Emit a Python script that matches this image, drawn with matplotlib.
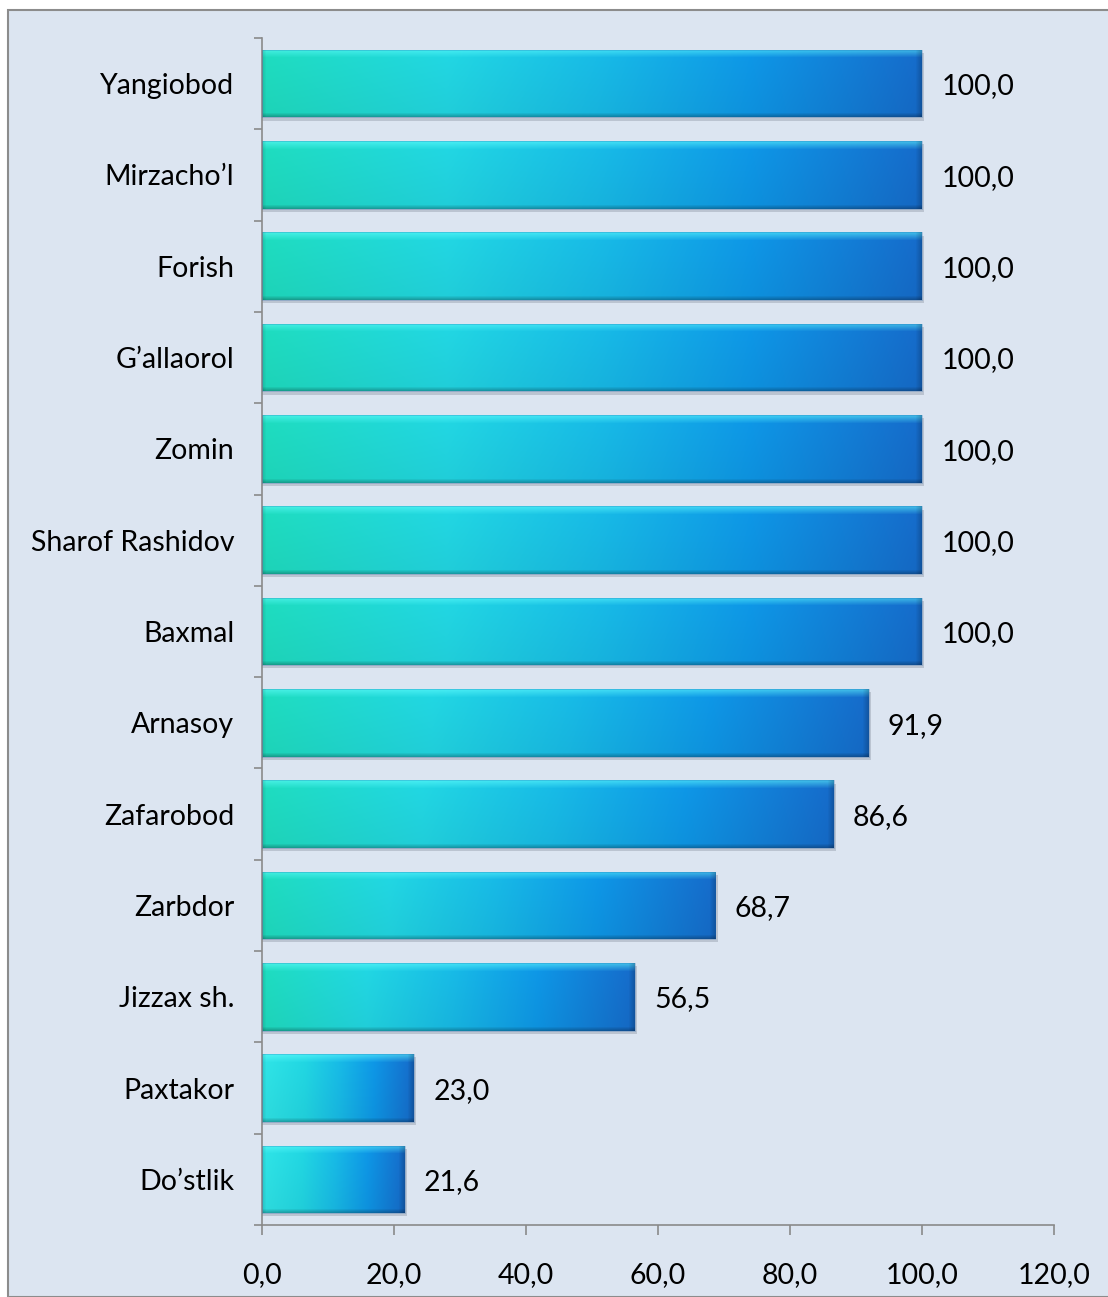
import numpy as np
import matplotlib
matplotlib.use("Agg")
import matplotlib.pyplot as plt
from matplotlib.patches import Rectangle
from matplotlib.colors import to_rgb

categories = ["Yangiobod", "Mirzacho\u2019l", "Forish", "G\u2019allaorol", "Zomin",
              "Sharof Rashidov", "Baxmal", "Arnasoy", "Zafarobod", "Zarbdor",
              "Jizzax sh.", "Paxtakor", "Do\u2019stlik"]
values = [100.0, 100.0, 100.0, 100.0, 100.0, 100.0, 100.0, 91.9, 86.6, 68.7, 56.5, 23.0, 21.6]
xticks = [0, 20, 40, 60, 80, 100, 120]
xtick_labels = ["0,0", "20,0", "40,0", "60,0", "80,0", "100,0", "120,0"]

W, H, DPI = 1108, 1297, 100
BG = "#dce5f1"
FS = 20.5
plt.rcParams['font.family'] = ['Lato', 'DejaVu Sans']

fig = plt.figure(figsize=(W / DPI, H / DPI), dpi=DPI)
fig.patch.set_facecolor("white")
fig.add_artist(Rectangle((8 / W, 0), 1.2, (H - 10) / H, transform=fig.transFigure,
                         facecolor=BG, edgecolor="#8c8c8c", linewidth=1.5, zorder=0))

ax = fig.add_axes([262 / W, (H - 1225) / H, (1054 - 262) / W, (1225 - 38) / H])
ax.set_facecolor("none")

n = len(categories)
ypos = np.arange(n)
bar_h = 0.74
bars = ax.barh(ypos, values, height=bar_h, color="none", edgecolor="none", zorder=2)
ax.set_xlim(0, 120)
ax.set_ylim(n - 0.5, -0.5)

fig.canvas.draw()
stops_x = [0.0, 0.28, 0.51, 0.74, 1.0]
stop_cols = [np.array(to_rgb(c)) for c in ["#1fdec0", "#22d8e4", "#18bce8", "#0e98e8", "#166ccc"]]
short_left = np.array(to_rgb("#30e6e8"))

for b, v in zip(bars, values):
    x0, y0 = b.get_x(), b.get_y()
    w, h = b.get_width(), b.get_height()
    p0 = ax.transData.transform((x0, y0))
    p1 = ax.transData.transform((x0 + w, y0 + h))
    npx = max(int(round(abs(p1[0] - p0[0]))), 2)
    nph = max(int(round(abs(p1[1] - p0[1]))), 2)
    t = np.linspace(0, 1, npx)
    frac = w / 100.0
    sc = list(stop_cols)
    if frac < 0.5:
        sc[0] = short_left
    cols = np.empty((npx, 3))
    for k in range(3):
        cols[:, k] = np.interp(t, stops_x, [c[k] for c in sc])
    img = np.repeat(cols[None, :, :], nph, axis=0)
    rows = np.arange(nph)
    # top highlight band
    hl = np.clip(1 - rows / 8.0, 0, 1) * 0.55
    img = img * (1 - hl[:, None, None]) + hl[:, None, None] * np.array([0.4, 1.0, 1.0])
    # subtle vertical shading
    shade = 1.0 - 0.05 * (rows / nph)
    img *= shade[:, None, None]
    # bottom dark bevel
    bd = np.clip((rows - (nph - 5)) / 5.0, 0, 1) * 0.3
    img *= (1 - bd)[:, None, None]
    # right bevel
    cidx = np.arange(npx)
    rd = np.clip((cidx - (npx - 7)) / 7.0, 0, 1) * 0.22
    img *= (1 - rd)[None, :, None]
    # left edge
    ld = np.clip(1 - cidx / 4.0, 0, 1) * 0.12
    img *= (1 - ld)[None, :, None]
    img = np.clip(img, 0, 1)
    # shadow
    ax.add_patch(Rectangle((x0, y0 + 0.035), w + 0.35, h, facecolor="#6f7a8a", alpha=0.3,
                           edgecolor="none", zorder=1))
    im = ax.imshow(img, extent=(x0, x0 + w, y0 + h, y0), aspect="auto", zorder=2,
                   interpolation="bilinear")
    im.set_clip_path(b)
    ax.add_patch(Rectangle((x0, y0), w, h, facecolor="none", edgecolor="#1b5fa8",
                           linewidth=0.5, alpha=0.35, zorder=3))
    ax.annotate(f"{v:.1f}".replace(".", ","), xy=(x0 + w, y0 + h / 2), xytext=(14, -2),
                textcoords="offset points", va="center", ha="left", fontsize=FS,
                color="black", zorder=4)

ax.set_xticks(xticks)
ax.set_xticklabels(xtick_labels, fontsize=FS)
ax.set_yticks(ypos)
ax.set_yticklabels(categories, fontsize=FS)
ax.set_yticks(np.arange(-0.5, n, 1.0), minor=True)
ax.tick_params(axis="y", which="major", length=0, pad=20)
ax.tick_params(axis="y", which="minor", length=6, width=1.2, color="#8a8a8a", direction="out")
ax.tick_params(axis="x", which="major", length=7, width=1.2, color="#8a8a8a", direction="out", pad=20)
ax.set_ylim(n - 0.5, -0.5)
for s in ["top", "right"]:
    ax.spines[s].set_visible(False)
for s in ["left", "bottom"]:
    ax.spines[s].set_color("#8a8a8a")
    ax.spines[s].set_linewidth(1.2)

fig.savefig("out.png", dpi=DPI, facecolor=fig.get_facecolor())
